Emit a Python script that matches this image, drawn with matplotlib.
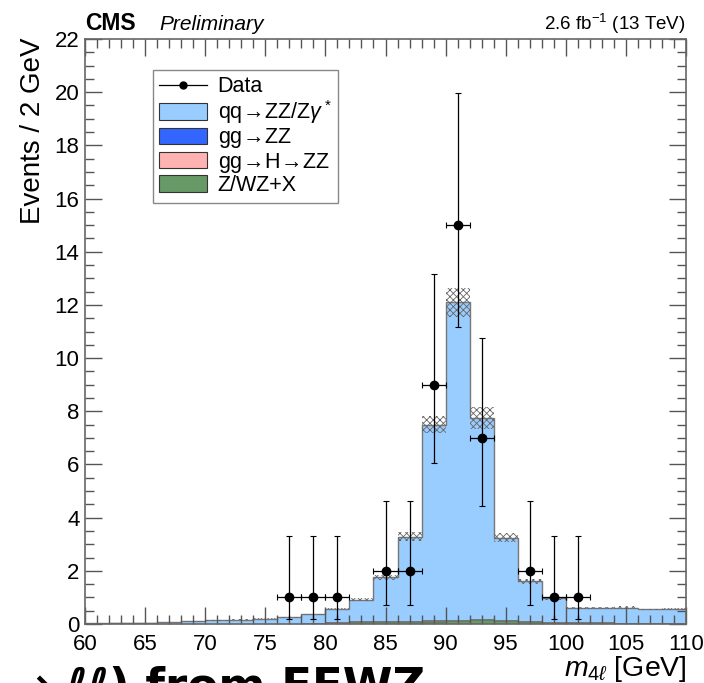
import numpy as np
import matplotlib
matplotlib.use("Agg")
import matplotlib.pyplot as plt
from matplotlib.lines import Line2D
from matplotlib.patches import Patch
from matplotlib.ticker import MultipleLocator

plt.rcParams["font.family"] = ["Liberation Sans", "DejaVu Sans"]
plt.rcParams["mathtext.fontset"] = "custom"
plt.rcParams["mathtext.rm"] = "Liberation Sans"
plt.rcParams["mathtext.it"] = "Liberation Sans:italic"
plt.rcParams["mathtext.fallback"] = "stixsans"
plt.rcParams["hatch.linewidth"] = 0.6

# m4l binning, 2 GeV wide
edges = np.arange(60, 112, 2)

# expected yields per bin (stack: Z+X at the bottom, qq->ZZ on top)
zx = [0, 0, 0, 0, 0, 0, 0, 0, 0, 0.02, 0.05, 0.10, 0.11, 0.12, 0.13,
      0.15, 0.17, 0.15, 0.12, 0.08, 0.06, 0.05, 0.04, 0.03, 0.02]
ggh = [0.01, 0.0, 0.01, 0.0, 0.0, 0.0, 0.0, 0.0, 0.0, 0.0, 0.0, 0.0, 0.0,
       0.0, 0.0, 0.0, 0.0, 0.0, 0.0, 0.0, 0.0, 0.0, 0.0, 0.0, 0.0]
ggzz = [0.0, 0.02, 0.01, 0.0, 0.0, 0.0, 0.0, 0.0, 0.0, 0.01, 0.01, 0.01, 0.01,
        0.01, 0.01, 0.01, 0.01, 0.01, 0.01, 0.01, 0.01, 0.01, 0.01, 0.01, 0.01]
qqzz = [0.01, 0.0, 0.02, 0.07, 0.10, 0.14, 0.16, 0.20, 0.26, 0.33, 0.52, 0.81,
        1.63, 3.15, 7.36, 11.94, 7.57, 3.09, 1.47, 0.88, 0.53, 0.54, 0.57, 0.51, 0.53]
# total uncertainty on the expectation
unc = [0.0, 0.0, 0.0, 0.0, 0.01, 0.01, 0.01, 0.01, 0.02, 0.02, 0.03, 0.05, 0.09,
       0.17, 0.33, 0.55, 0.40, 0.16, 0.08, 0.05, 0.03, 0.03, 0.04, 0.03, 0.03]

# observed events with Poisson intervals
data_x = [77, 79, 81, 85, 87, 89, 91, 93, 97, 99, 101]
data_y = [1, 1, 1, 2, 2, 9, 15, 7, 2, 1, 1]
data_lo = [0.83, 0.83, 0.83, 1.29, 1.29, 2.94, 3.83, 2.58, 1.29, 0.83, 0.83]
data_hi = [2.30, 2.30, 2.30, 2.64, 2.64, 4.15, 4.96, 3.77, 2.64, 2.30, 2.30]

fig = plt.figure(figsize=(7.04, 6.83), dpi=100)
ax = fig.add_axes([85 / 704, 59 / 683, 601 / 704, 585 / 683])

arrow = "$\\!\\rightarrow\\!$"
components = [
    (zx, "#669966", "Z/WZ+X"),
    (ggh, "#ffb2b2", f"gg{arrow}H{arrow}ZZ"),
    (ggzz, "#3366ff", f"gg{arrow}ZZ"),
    (qqzz, "#99ccff", f"qq{arrow}ZZ/Z$\\gamma^*$"),
]
base = np.zeros(len(qqzz))
for vals, col, lab in components:
    top = base + np.array(vals)
    ax.stairs(top, edges, baseline=base, fill=True, color=col, lw=0)
    ax.stairs(top, edges, color="#222222" if col == "#669966" else "#777777", lw=1.0)
    base = top
total = base

# hatched uncertainty band
unc = np.array(unc)
centers = 0.5 * (edges[1:] + edges[:-1])
ax.bar(centers, 2 * unc, bottom=total - unc, width=2, fill=False,
       hatch="xxxxx", edgecolor="#666666", linewidth=0)

ax.errorbar(data_x, data_y, xerr=1, yerr=[data_lo, data_hi], fmt="o",
            color="black", ms=6, elinewidth=0.9, capsize=2, capthick=0.8)

ax.set_xlim(60, 110)
ax.set_ylim(0, 22)
ax.xaxis.set_major_locator(MultipleLocator(5))
ax.xaxis.set_minor_locator(MultipleLocator(1))
ax.yaxis.set_major_locator(MultipleLocator(2))
ax.yaxis.set_minor_locator(MultipleLocator(0.5))
ax.tick_params(which="both", direction="in", top=True, right=True,
               color="#555555", labelsize=16)
ax.tick_params(which="major", length=12.5, width=1.0)
ax.tick_params(which="minor", length=6.5, width=1.0)
ax.tick_params(axis="x", pad=7)
ax.tick_params(axis="y", pad=4)
for sp in ax.spines.values():
    sp.set_color("#666666")
    sp.set_linewidth(1.2)

fig.text(33 / 704, 1 - 38 / 683, "Events / 2 GeV", rotation=90,
         ha="center", va="top", fontsize=20)
fig.text(687 / 704, 1 - 654 / 683, "$m_{4\\ell}$ [GeV]", ha="right", va="top",
         fontsize=20.5)

fig.text(85 / 704, 1 - 30 / 683, "CMS", fontsize=16.5, fontweight="bold",
         va="baseline")
fig.text(159 / 704, 1 - 30 / 683, "Preliminary", fontsize=15, style="italic",
         va="baseline")
fig.text(686 / 704, 1 - 30 / 683, "2.6 fb$^{-1}$ (13 TeV)", fontsize=13.5,
         ha="right", va="baseline")

handles = [Line2D([0], [0], color="black", marker="o", ms=5, lw=0.9)]
labels = ["Data"]
for vals, col, lab in reversed(components):
    handles.append(Patch(facecolor=col, edgecolor="#333333", lw=0.8))
    labels.append(lab)
leg = ax.legend(handles, labels, loc="upper left",
                bbox_to_anchor=(153 / 704, 1 - 70 / 683),
                bbox_transform=fig.transFigure, fontsize=15.5, frameon=True,
                fancybox=False, edgecolor="#888888", framealpha=1,
                handlelength=2.2, handleheight=0.8, handletextpad=0.5,
                labelspacing=0.02, borderpad=0.3, borderaxespad=0)
leg.get_frame().set_linewidth(1.0)

fig.text(13 / 704, 1 - 700 / 683, "→ ℓℓ) from FEWZ", fontsize=32.5,
         fontweight="bold", family="DejaVu Sans", va="baseline")

fig.savefig("out.png", dpi=100)
